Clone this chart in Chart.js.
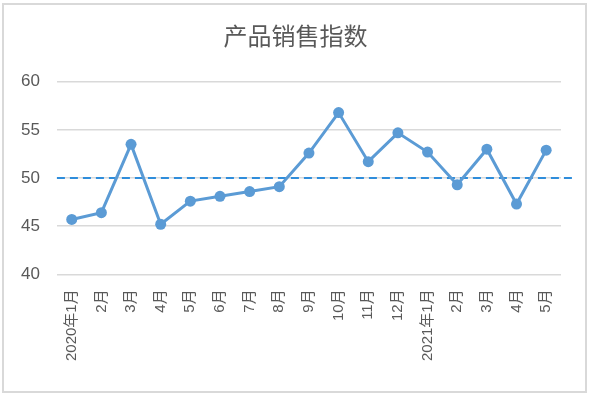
<!DOCTYPE html>
<html>
<head>
<meta charset="utf-8">
<script src="https://cdn.jsdelivr.net/npm/chart.js@4/dist/chart.umd.min.js"></script>
<style>
  html, body { margin: 0; padding: 0; background: #fff; }
  #wrap { width: 592px; height: 399px; position: relative; }
</style>
</head>
<body>
<div id="wrap"><canvas id="grafikIndeks"></canvas></div>
<script>
// data
const bulan = ['2020年1月', '2月', '3月', '4月', '5月', '6月', '7月', '8月', '9月', '10月', '11月', '12月',
  '2021年1月', '2月', '3月', '4月', '5月'];
const indeks = [45.7, 46.4, 53.5, 45.2, 47.6, 48.1, 48.6, 49.1, 52.6, 56.8, 51.7, 54.7, 52.7, 49.3, 53.0, 47.3, 52.9];
const garisAcuan = 50;
const yTicks = [40, 45, 50, 55, 60];

// garis putus-putus di nilai acuan + bingkai luar
const pluginAcuan = {
  id: 'acuan',
  beforeDraw(chart) {
    const c = chart.ctx;
    c.save();
    c.strokeStyle = '#d9d9d9';
    c.lineWidth = 2;
    c.strokeRect(3, 4, 583, 388);
    c.restore();
  },
  beforeDatasetsDraw(chart) {
    const c = chart.ctx;
    const area = chart.chartArea;
    const y = chart.scales.y.getPixelForValue(garisAcuan);
    c.save();
    c.strokeStyle = '#2f8ddb';
    c.lineWidth = 2;
    c.setLineDash([8, 5]);
    c.beginPath();
    c.moveTo(area.left, y);
    c.lineTo(area.right + 13, y);
    c.stroke();
    c.restore();
  }
};

const ctx = document.getElementById('grafikIndeks').getContext('2d');
window.grafikIndeks = new Chart(ctx, {
  type: 'line',
  data: {
    labels: bulan,
    datasets: [{
      label: '产品销售指数',
      data: indeks,
      borderColor: '#5b9bd5',
      backgroundColor: '#5b9bd5',
      borderWidth: 3,
      pointRadius: 5.5,
      pointBackgroundColor: '#5b9bd5',
      pointBorderWidth: 0,
      tension: 0
    }]
  },
  options: {
    responsive: true,
    maintainAspectRatio: false,
    animation: false,
    layout: {
      padding: { left: 4, right: 5, top: 0, bottom: 23 }
    },
    plugins: {
      legend: { display: false },
      tooltip: { enabled: false },
      title: {
        display: true,
        text: '产品销售指数',
        color: '#595959',
        font: { size: 24, family: '"Noto Sans CJK SC", sans-serif', weight: 'normal' },
        padding: { top: 21, bottom: 32 }
      }
    },
    scales: {
      x: {
        offset: true,
        // sisakan ruang kanan untuk ujung garis putus-putus
        afterFit(axis) {
          axis.paddingRight = 31;
        },
        grid: { display: false, drawTicks: false },
        border: { display: false },
        ticks: {
          color: '#595959',
          font: { size: 15, family: '"Liberation Sans", "Noto Sans CJK SC", sans-serif' },
          minRotation: 90,
          maxRotation: 90,
          padding: 15,
          autoSkip: false
        }
      },
      y: {
        min: 40,
        max: 60,
        afterBuildTicks(axis) {
          axis.ticks = yTicks.map(v => ({ value: v }));
        },
        grid: { color: '#d9d9d9', lineWidth: 1.5, drawTicks: false },
        border: { display: false },
        ticks: {
          color: '#595959',
          font: { size: 17, family: '"Liberation Sans", sans-serif' },
          padding: 17
        }
      }
    }
  },
  plugins: [pluginAcuan]
});
</script>
</body>
</html>
